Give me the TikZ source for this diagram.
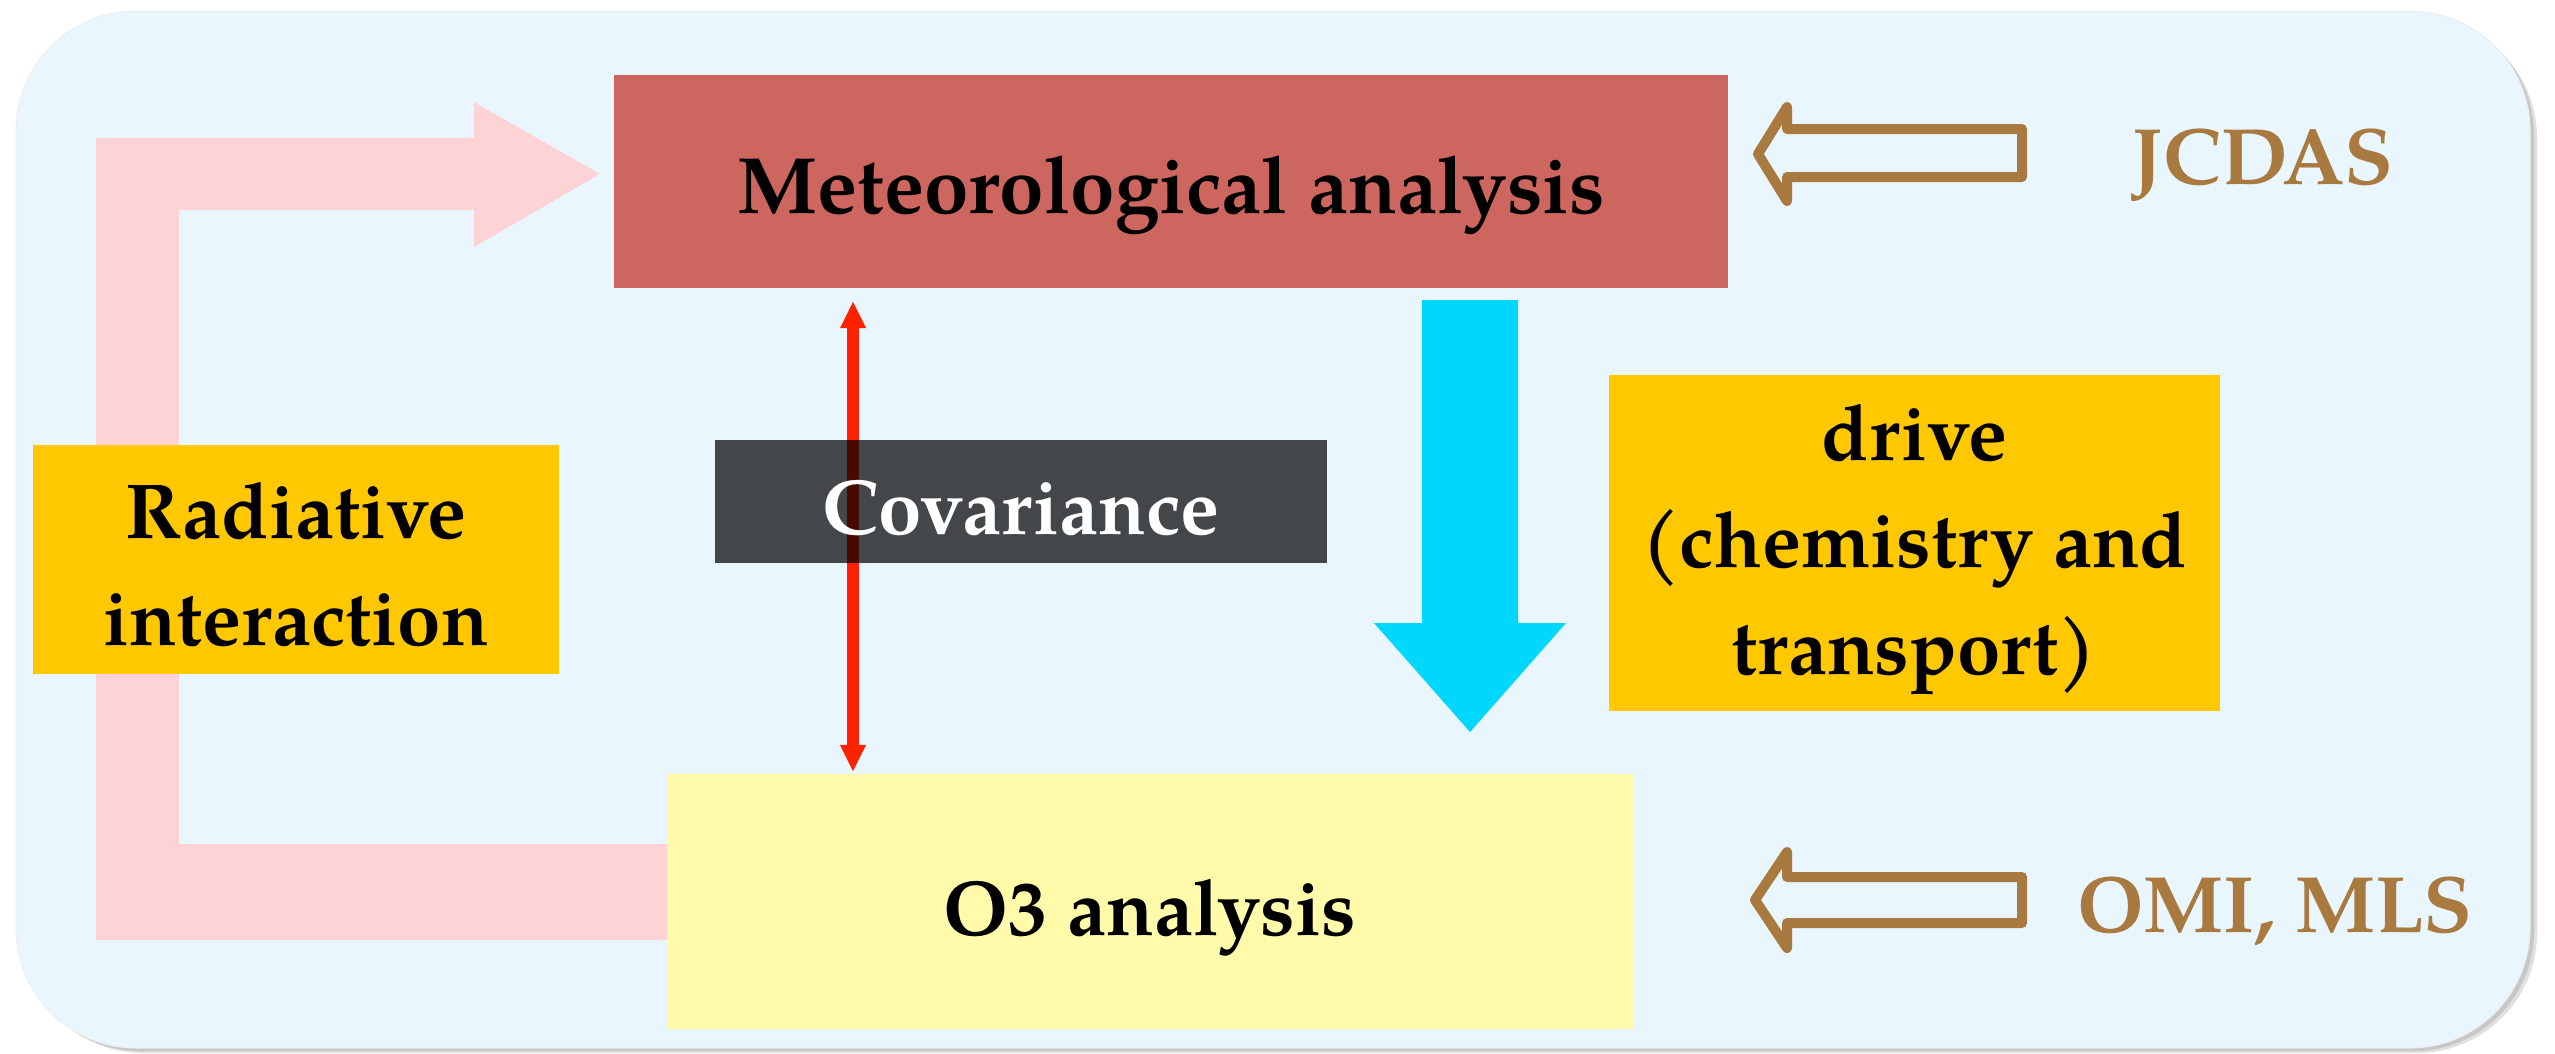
\documentclass[tikz,border=0pt]{standalone}
\usepackage{fontspec}
\setmainfont{TeX Gyre Pagella}
\usetikzlibrary{arrows.meta}
\definecolor{bgblue}{HTML}{E9F6FE}
\definecolor{metred}{HTML}{CD665F}
\definecolor{pinkc}{HTML}{FED3D6}
\definecolor{cyanc}{HTML}{00D7FF}
\definecolor{orangey}{HTML}{FFC800}
\definecolor{lightyel}{HTML}{FFFBAA}
\definecolor{brownc}{HTML}{A97A40}
\definecolor{redc}{HTML}{FF2200}
\begin{document}
\begin{tikzpicture}[x=1pt,y=-1pt,
  box/.style={inner sep=0pt, align=center, font=\fontsize{78}{107}\selectfont\bfseries},
  brownarrow/.style={draw=brownc, line width=10pt, line join=round},
  lbl/.style={inner sep=0pt, anchor=base, text=brownc, font=\fontsize{80}{100}\selectfont\bfseries}]
\useasboundingbox (0,0) rectangle (2555,1053);
% background with soft shadow
\fill[black!12, rounded corners=120pt] (23,18) rectangle (2537,1053);
\fill[black!22, rounded corners=120pt] (20,15) rectangle (2534,1051);
\fill[bgblue, draw=black!7, line width=1pt, rounded corners=120pt] (16,11) rectangle (2530,1048);
% pink L-shaped feedback arrow
\fill[pinkc] (96,138) -- (474,138) -- (474,102) -- (600,174) -- (474,247) -- (474,210)
  -- (179,210) -- (179,844) -- (670,844) -- (670,940) -- (96,940) -- cycle;
% boxes
\node[box, fill=orangey, minimum width=526pt, minimum height=229pt] (rad) at (296,559.5)
  {\rule{0pt}{67pt}Radiative\\interaction};
\node[box, fill=metred, minimum width=1114pt, minimum height=213pt,
  font=\fontsize{80}{107}\selectfont\bfseries, text height=63pt, text depth=0pt] (met) at (1171,181.5)
  {Meteorological analysis};
\node[box, fill=lightyel, minimum width=966pt, minimum height=255pt,
  text height=67pt, text depth=0pt] (o3) at (1150,901.5) {O3 analysis};
% covariance double arrow
\coordinate (cx) at (853,0);
\draw[redc, line width=12pt, shorten <=13pt, shorten >=2pt,
  {Triangle[width=24pt,length=27pt]}-{Triangle[width=24pt,length=27pt]}]
  (met.south -| cx) -- (o3.north -| cx);
\node[box, fill=black, fill opacity=0.71, text opacity=1, text=white,
  minimum width=612pt, minimum height=123pt, text height=65pt, text depth=0pt] (cov) at (1021,501.5) {Covariance};
% cyan drive arrow
\fill[cyanc] (1422,300) -- (1518,300) -- (1518,623) -- (1566,623) -- (1470,732)
  -- (1374,623) -- (1422,623) -- cycle;
\node[box, fill=orangey, minimum width=611pt, minimum height=336pt] (drive) at (1914.5,543)
  {\rule{0pt}{70pt}drive\\(chemistry and\\transport)};
% hollow input arrows
\draw[brownarrow] (1758,154) -- (1787,107) -- (1787,129) -- (2022,129) -- (2022,177)
  -- (1787,177) -- (1787,201) -- cycle;
\draw[brownarrow] (1755,900) -- (1787,852) -- (1787,877) -- (2022,877) -- (2022,923)
  -- (1787,923) -- (1787,948) -- cycle;
\node[lbl] (jcdas) at (2263,184) {JCDAS};
\node[lbl] (omi) at (2275,932) {OMI, MLS};
\end{tikzpicture}
\end{document}
